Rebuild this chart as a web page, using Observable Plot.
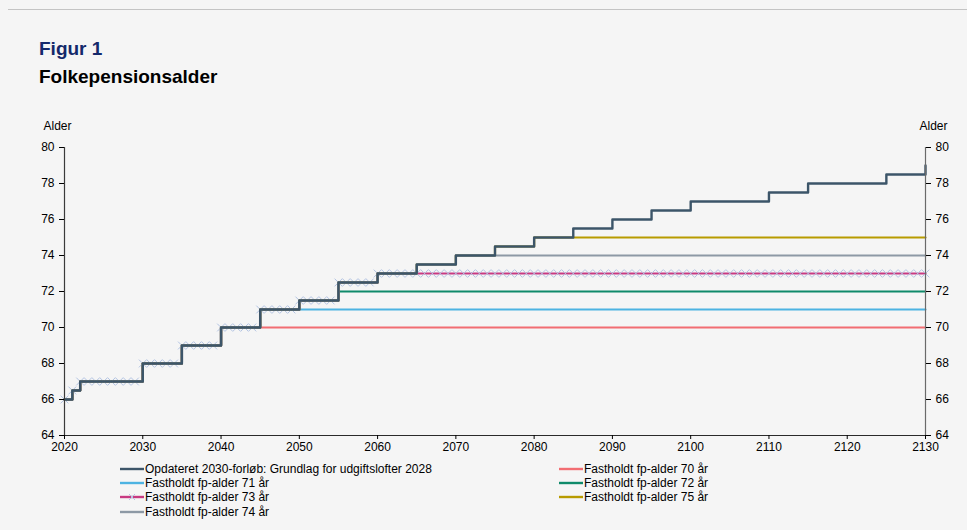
<!DOCTYPE html>
<html>
<head>
<meta charset="utf-8">
<script src="https://cdn.jsdelivr.net/npm/d3@7"></script>
<script src="https://cdn.jsdelivr.net/npm/@observablehq/plot@0.6"></script>
<style>
  html, body { margin:0; padding:0; background:#f5f5f5; }
  body { width:967px; height:530px; position:relative; overflow:hidden; font-family:"Liberation Sans", Arial, sans-serif; }
  #topline { position:absolute; left:8px; right:0; top:9px; height:1px; background:#c4c4c4; }
  #fig { position:absolute; left:39px; top:38px; font-size:19px; font-weight:bold; color:#14296b; }
  #title { position:absolute; left:39px; top:66px; font-size:19px; font-weight:bold; color:#000; }
  #chart { position:absolute; left:0; top:110px; }
  .leg { position:absolute; font-size:12px; color:#000; display:flex; align-items:center; white-space:nowrap; }
  .leg svg { margin-right:1px; }
</style>
</head>
<body>
<div id="topline"></div>
<div id="fig">Figur 1</div>
<div id="title">Folkepensionsalder</div>
<div id="chart"></div>
<div id="legend"></div>
<script>
// ---- data ----
const startYear = 2020;
const mainAges = [
  66, 66.5,
  67, 67, 67, 67, 67, 67, 67, 67,
  68, 68, 68, 68, 68,
  69, 69, 69, 69, 69,
  70, 70, 70, 70, 70,
  71, 71, 71, 71, 71,
  71.5, 71.5, 71.5, 71.5, 71.5,
  72.5, 72.5, 72.5, 72.5, 72.5,
  73, 73, 73, 73, 73,
  73.5, 73.5, 73.5, 73.5, 73.5,
  74, 74, 74, 74, 74,
  74.5, 74.5, 74.5, 74.5, 74.5,
  75, 75, 75, 75, 75,
  75.5, 75.5, 75.5, 75.5, 75.5,
  76, 76, 76, 76, 76,
  76.5, 76.5, 76.5, 76.5, 76.5,
  77, 77, 77, 77, 77, 77, 77, 77, 77, 77,
  77.5, 77.5, 77.5, 77.5, 77.5,
  78, 78, 78, 78, 78, 78, 78, 78, 78, 78,
  78.5, 78.5, 78.5, 78.5, 78.5,
  79
];
const mainName = "Opdateret 2030-forløb: Grundlag for udgiftslofter 2028";
const fixedLevels = [70, 71, 72, 73, 75, 74];
const fixedNames = ["Fastholdt fp-alder 70 år","Fastholdt fp-alder 71 år","Fastholdt fp-alder 72 år","Fastholdt fp-alder 73 år","Fastholdt fp-alder 75 år","Fastholdt fp-alder 74 år"];
const fixedColors = ["#f26d72","#4db3e2","#0f8a6a","#c83a82","#b89b00","#8d99a5"];
const mainColor = "#3c5569";
const markerColor = "#b3c4e3";
const xTicks = [2020,2030,2040,2050,2060,2070,2080,2090,2100,2110,2120,2130];
const yTicks = [64,66,68,70,72,74,76,78,80];

// ---- build tables ----
const mainData = mainAges.map((a, i) => ({year: startYear + i, age: a}));
const fixedData = fixedLevels.map((L, k) => mainData.map(d => ({year: d.year, age: Math.min(d.age, L), series: fixedNames[k]})));

const font = "'Liberation Sans', Arial, sans-serif";
const marks = [];
fixedData.forEach((data, k) => {
  marks.push(Plot.line(data, {x:"year", y:"age", curve:"step-after", stroke: fixedColors[k], strokeWidth: 2.2}));
  if (fixedLevels[k] === 73) {
    marks.push(Plot.dot(data, {x:"year", y:"age", symbol:"times", r:3.6, stroke: markerColor, strokeWidth:1}));
  }
});
marks.push(Plot.line(mainData, {x:"year", y:"age", curve:"step-after", stroke: mainColor, strokeWidth: 2.4}));

const chart = Plot.plot({
  width: 967, height: 350,
  marginLeft: 64, marginRight: 42, marginTop: 37, marginBottom: 25,
  style: {background:"transparent", fontFamily: font, fontSize:"12px", color:"#000"},
  x: {domain:[2020,2130]},
  y: {domain:[64,80]},
  marks: [
    ...marks,
    Plot.ruleX([2020], {stroke:"#3a3a3a", strokeWidth:1.2}),
    Plot.ruleX([2130], {stroke:"#6a6a6a", strokeWidth:1.2}),
    Plot.ruleY([64], {stroke:"#2a2a2a", strokeWidth:1.2}),
    Plot.axisY({anchor:"left", ticks: yTicks, tickSize:5, tickPadding:5, label:null, fontSize:12}),
    Plot.axisY({anchor:"right", ticks: yTicks, tickSize:5, tickPadding:5, label:null, fontSize:12}),
    Plot.axisX({ticks: xTicks, tickFormat: d => String(d), tickSize:4, tickPadding:3, label:null, fontSize:12}),
    Plot.text(["Alder"], {frameAnchor:"top-left", dx:-7, dy:-26, textAnchor:"middle", fontSize:12}),
    Plot.text(["Alder"], {frameAnchor:"top-right", dx:8, dy:-26, textAnchor:"middle", fontSize:12})
  ]
});
document.getElementById("chart").appendChild(chart);

// ---- legend ----
const legendItems = [
  {name: mainName, color: mainColor, x:120, y:469},
  {name: fixedNames[0], color: fixedColors[0], x:559, y:469},
  {name: fixedNames[1], color: fixedColors[1], x:120, y:483},
  {name: fixedNames[2], color: fixedColors[2], x:559, y:483},
  {name: fixedNames[3], color: fixedColors[3], x:120, y:497, marker:true},
  {name: fixedNames[4], color: fixedColors[4], x:559, y:497},
  {name: fixedNames[5], color: fixedColors[5], x:120, y:512}
];
const legend = document.getElementById("legend");
legendItems.forEach(it => {
  const div = document.createElement("div");
  div.className = "leg";
  div.style.left = it.x + "px";
  div.style.top = (it.y - 7) + "px";
  div.style.height = "14px";
  const m = it.marker ? `<g stroke="${markerColor}" stroke-width="1"><line x1="9" y1="4" x2="15" y2="10"/><line x1="15" y1="4" x2="9" y2="10"/></g>` : "";
  div.innerHTML = `<svg width="24" height="14"><line x1="0" y1="7" x2="24" y2="7" stroke="${it.color}" stroke-width="2.4"/>${m}</svg><span>${it.name}</span>`;
  legend.appendChild(div);
});
</script>
</body>
</html>
